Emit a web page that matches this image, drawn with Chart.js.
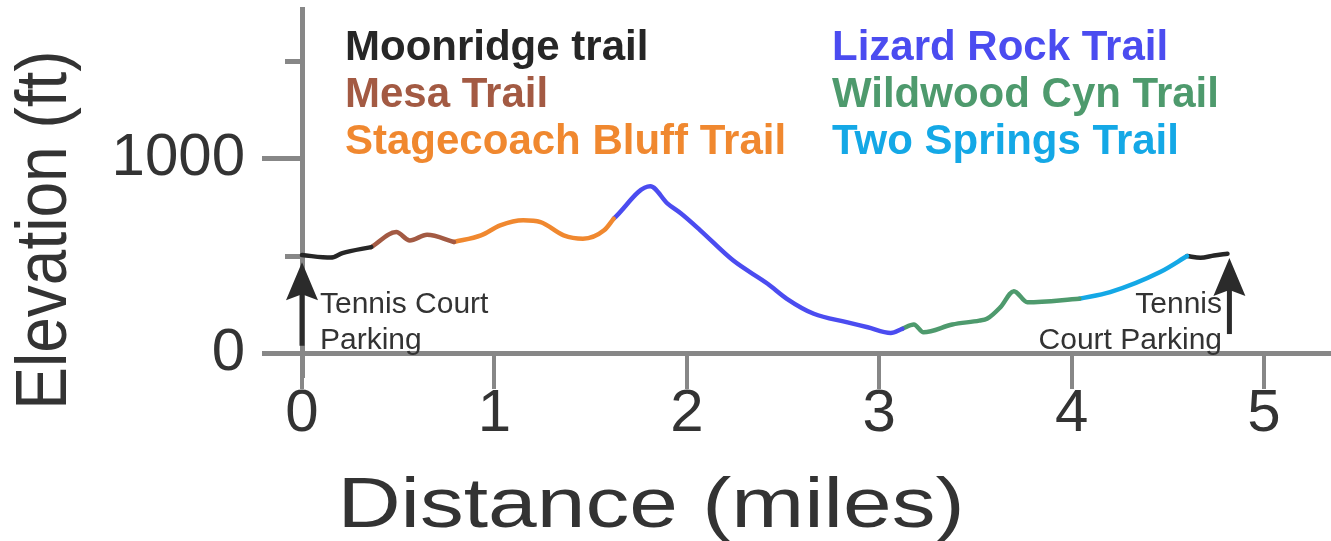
<!DOCTYPE html>
<html>
<head>
<meta charset="utf-8">
<script src="https://cdn.jsdelivr.net/npm/chart.js@4.4.1/dist/chart.umd.min.js"></script>
<style>
  html, body { margin: 0; padding: 0; background: #fff; }
  #wrap { width: 1331px; height: 541px; }
</style>
</head>
<body>
<div id="wrap"><canvas id="elevation-chart"></canvas></div>
<script>
// distance (miles) / elevation (ft), one pair per trail segment
var moonridgeStartMiles = [0, 0.15, 0.21, 0.36];
var moonridgeStartFt    = [505, 492, 515, 546];
var mesaMiles = [0.36, 0.49, 0.56, 0.65, 0.79];
var mesaFt    = [546, 623, 580, 609, 572];
var stagecoachMiles = [0.79, 0.93, 1.03, 1.15, 1.24, 1.36, 1.46, 1.57, 1.62];
var stagecoachFt    = [572, 606, 657, 683, 674, 606, 589, 632, 692];
var lizardMiles = [1.62, 1.81, 1.90, 1.97, 2.07, 2.24, 2.42, 2.52, 2.66, 2.83, 2.94, 3.06, 3.12];
var lizardFt    = [692, 858, 769, 718, 632, 478, 358, 281, 204, 161, 135, 106, 127];
var wildwoodMiles = [3.12, 3.18, 3.23, 3.38, 3.52, 3.56, 3.63, 3.70, 3.77, 4.04];
var wildwoodFt    = [127, 149, 109, 149, 169, 178, 238, 320, 263, 281];
var twoSpringsMiles = [4.04, 4.20, 4.46, 4.60];
var twoSpringsFt    = [281, 315, 418, 500];
var moonridgeEndMiles = [4.60, 4.67, 4.74, 4.81];
var moonridgeEndFt    = [500, 491, 503, 512];

var xTicks = [0, 1, 2, 3, 4, 5];
var yMajorTicks = [0, 1000];
var yMinorTicks = [500, 1500];

var trailNames  = ["Moonridge trail", "Mesa Trail", "Stagecoach Bluff Trail",
                   "Lizard Rock Trail", "Wildwood Cyn Trail", "Two Springs Trail"];
var trailColors = ["#262626", "#a35a43", "#f0882f", "#4b4cf0", "#4e9a6d", "#14a8e6"];

// parking arrows: position (miles) and the elevation span they cover (ft)
var parkingMiles = [0, 4.82];
var parkingFromFt = [40, 100];
var parkingToFt = [468, 490];

var FONT = "'Liberation Sans', Arial, Helvetica, sans-serif";
var AXIS_GREY = "#878787";
var TEXT_DARK = "#333333";

function pts(xs, ys) {
  return xs.map(function (x, i) { return { x: x, y: ys[i] }; });
}

var segments = [
  [moonridgeStartMiles, moonridgeStartFt, 0],
  [mesaMiles, mesaFt, 1],
  [stagecoachMiles, stagecoachFt, 2],
  [lizardMiles, lizardFt, 3],
  [wildwoodMiles, wildwoodFt, 4],
  [twoSpringsMiles, twoSpringsFt, 5],
  [moonridgeEndMiles, moonridgeEndFt, 0]
];

var datasets = segments.map(function (s) {
  return {
    label: trailNames[s[2]],
    data: pts(s[0], s[1]),
    borderColor: trailColors[s[2]],
    borderWidth: 4.5,
    pointRadius: 0,
    showLine: true,
    clip: 8,
    cubicInterpolationMode: "monotone",
    borderCapStyle: "round",
    borderJoinStyle: "round"
  };
});

function fixedTicks(values) {
  return function (scale) {
    scale.ticks = values.map(function (v) { return { value: v }; });
  };
}
function noPadding(scale) {
  scale.paddingTop = 0; scale.paddingBottom = 0;
  scale.paddingLeft = 0; scale.paddingRight = 0;
}

var extras = {
  id: "extras",
  afterDraw: function (chart) {
    var ctx = chart.ctx;
    var xs = chart.scales.x, ys = chart.scales.y;
    ctx.save();

    // trail names, two columns
    ctx.font = "bold 42px " + FONT;
    ctx.textBaseline = "alphabetic";
    ctx.textAlign = "left";
    trailNames.forEach(function (name, i) {
      var col = Math.floor(i / 3), row = i % 3;
      ctx.fillStyle = trailColors[i];
      ctx.fillText(name, col === 0 ? 345 : 832, 60 + row * 47);
    });

    // parking arrows
    parkingMiles.forEach(function (m, i) {
      var px = xs.getPixelForValue(m);
      var y0 = ys.getPixelForValue(parkingFromFt[i]);
      var y1 = ys.getPixelForValue(parkingToFt[i]);
      ctx.strokeStyle = "#2b2b2b";
      ctx.fillStyle = "#2b2b2b";
      ctx.lineWidth = 5;
      ctx.beginPath();
      ctx.moveTo(px, y0);
      ctx.lineTo(px, y1 + 30);
      ctx.stroke();
      ctx.beginPath();
      ctx.moveTo(px, y1);
      ctx.lineTo(px - 16, y1 + 38);
      ctx.lineTo(px, y1 + 32);
      ctx.lineTo(px + 16, y1 + 38);
      ctx.closePath();
      ctx.fill();
    });

    ctx.fillStyle = TEXT_DARK;
    ctx.font = "30px " + FONT;
    ctx.textAlign = "left";
    ctx.fillText("Tennis Court", 320, 313);
    ctx.fillText("Parking", 320, 349);
    ctx.textAlign = "right";
    ctx.fillText("Tennis", 1222, 313);
    ctx.fillText("Court Parking", 1222, 349);

    // axis titles (the source figure is stretched sideways a little)
    ctx.fillStyle = TEXT_DARK;
    ctx.textAlign = "center";
    ctx.textBaseline = "middle";
    ctx.save();
    ctx.font = "70px " + FONT;
    ctx.translate(651, 508);
    ctx.scale(1.25, 1);
    ctx.fillText("Distance (miles)", 0, 0);
    ctx.restore();

    ctx.save();
    ctx.font = "64px " + FONT;
    ctx.translate(46, 230);
    ctx.scale(1.12, 1);
    ctx.rotate(-Math.PI / 2);
    ctx.fillText("Elevation (ft)", 0, 0);
    ctx.restore();
    ctx.restore();
  }
};

new Chart(document.getElementById("elevation-chart"), {
  type: "scatter",
  data: { datasets: datasets },
  plugins: [extras],
  options: {
    responsive: true,
    maintainAspectRatio: false,
    animation: false,
    layout: { padding: { left: 112, top: 9, right: 0, bottom: 166 } },
    plugins: {
      legend: { display: false },
      tooltip: { enabled: false }
    },
    scales: {
      x: {
        type: "linear",
        min: 0,
        max: 5.348,
        position: { y: 0 },
        afterBuildTicks: fixedTicks(xTicks),
        afterFit: noPadding,
        border: { color: AXIS_GREY, width: 5 },
        grid: { drawOnChartArea: false, tickLength: 33, color: AXIS_GREY, lineWidth: 4 },
        ticks: { color: TEXT_DARK, font: { size: 60, family: FONT }, padding: -8, maxRotation: 0, autoSkip: false }
      },
      y: {
        type: "linear",
        min: -110,
        max: 1767,
        position: "left",
        afterBuildTicks: fixedTicks(yMajorTicks),
        afterFit: function (scale) { noPadding(scale); scale.width = 190; },
        border: { color: AXIS_GREY, width: 5 },
        grid: { drawOnChartArea: false, tickLength: 40, color: AXIS_GREY, lineWidth: 5 },
        ticks: {
          color: TEXT_DARK, font: { size: 60, family: FONT }, padding: 17,
          callback: function (v) { return String(v); }
        }
      },
      yMinor: {
        type: "linear",
        min: -110,
        max: 1767,
        position: { x: 0 },
        afterBuildTicks: fixedTicks(yMinorTicks),
        afterFit: noPadding,
        border: { display: false },
        grid: { drawOnChartArea: false, tickLength: 17, color: AXIS_GREY, lineWidth: 5 },
        ticks: { display: false }
      }
    }
  }
});
</script>
</body>
</html>
